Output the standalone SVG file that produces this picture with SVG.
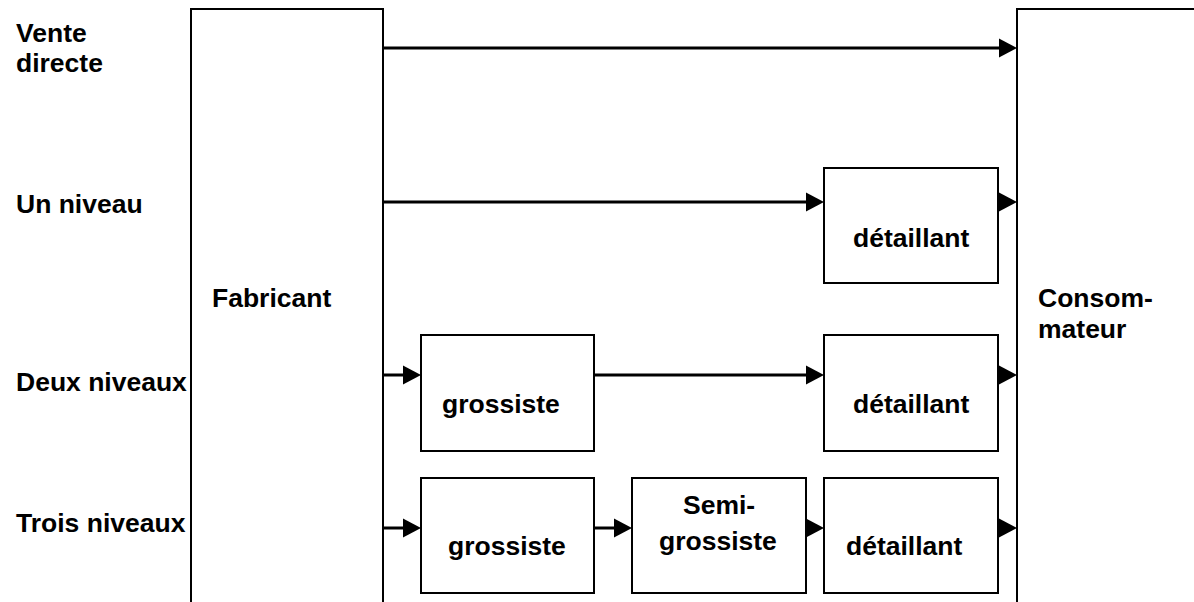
<svg xmlns="http://www.w3.org/2000/svg" width="1194" height="602" viewBox="0 0 1194 602">
  <style>
    text { font-family: "Liberation Sans", Arial, sans-serif; font-weight: bold; font-size: 26.5px; fill: #000; }
    .box { fill: #fff; stroke: #000; stroke-width: 2; }
    .conn { stroke: #000; stroke-width: 3; fill: none; marker-end: url(#ah); }
  </style>
  <defs>
    <marker id="ah" markerUnits="userSpaceOnUse" markerWidth="18" markerHeight="19" refX="8" refY="9.5" orient="auto" overflow="visible">
      <path d="M0,0 L18,9.5 L0,19 Z" fill="#000"/>
    </marker>
  </defs>
  <rect width="1194" height="602" fill="#fff"/>

  <g id="labels">
    <text x="16" y="42">Vente</text>
    <text x="16" y="72">directe</text>
    <text x="16" y="213">Un niveau</text>
    <text x="16" y="391">Deux niveaux</text>
    <text x="16" y="532">Trois niveaux</text>
  </g>

  <g id="fabricant">
    <rect class="box" x="191" y="9" width="192" height="610"/>
    <text x="212" y="307">Fabricant</text>
  </g>

  <g id="consommateur">
    <rect class="box" x="1017" y="9" width="200" height="610"/>
    <text x="1038" y="307">Consom-</text>
    <text x="1038" y="338">mateur</text>
  </g>

  <g id="detaillant1">
    <rect class="box" x="824" y="168" width="174" height="115"/>
    <text x="853" y="247">détaillant</text>
  </g>

  <g id="grossiste1">
    <rect class="box" x="421" y="335" width="173" height="116"/>
    <text x="442" y="413">grossiste</text>
  </g>

  <g id="detaillant2">
    <rect class="box" x="824" y="335" width="174" height="116"/>
    <text x="853" y="413">détaillant</text>
  </g>

  <g id="grossiste2">
    <rect class="box" x="421" y="478" width="173" height="115"/>
    <text x="448" y="555">grossiste</text>
  </g>

  <g id="semigrossiste">
    <rect class="box" x="632" y="478" width="174" height="115"/>
    <text x="683" y="514">Semi-</text>
    <text x="659" y="550">grossiste</text>
  </g>

  <g id="detaillant3">
    <rect class="box" x="824" y="478" width="174" height="115"/>
    <text x="846" y="555">détaillant</text>
  </g>

  <g id="connectors">
    <line class="conn" x1="383" y1="48" x2="1007" y2="48"/>
    <line class="conn" x1="383" y1="202" x2="814" y2="202"/>
    <line class="conn" x1="998" y1="202" x2="1007" y2="202"/>
    <line class="conn" x1="383" y1="375" x2="411" y2="375"/>
    <line class="conn" x1="594" y1="375" x2="814" y2="375"/>
    <line class="conn" x1="998" y1="375" x2="1007" y2="375"/>
    <line class="conn" x1="383" y1="528" x2="411" y2="528"/>
    <line class="conn" x1="594" y1="528" x2="622" y2="528"/>
    <line class="conn" x1="806" y1="528" x2="814" y2="528"/>
    <line class="conn" x1="998" y1="528" x2="1007" y2="528"/>
  </g>
</svg>
